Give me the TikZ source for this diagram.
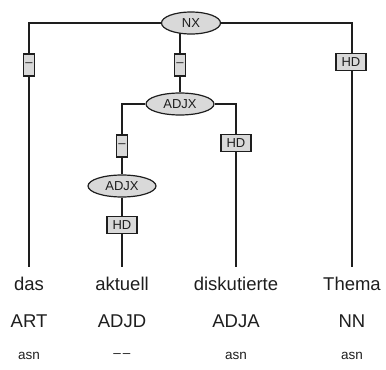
\documentclass[tikz,border=0pt]{standalone}
\usepackage{fontspec}
\setmainfont{Liberation Sans}
\usetikzlibrary{shapes.geometric,backgrounds}
\definecolor{nodefill}{RGB}{217,217,217}
\definecolor{ink}{RGB}{30,30,30}
\tikzset{
  cat/.style={ellipse,draw=ink,line width=1.2bp,fill=nodefill,inner sep=0pt,
    minimum width=#1,minimum height=22bp,font=\fontsize{13bp}{15bp}\selectfont,text=ink},
  edgebox/.style={rectangle,draw=ink,line width=1.3bp,fill=nodefill,inner sep=0pt,
    font=\fontsize{13bp}{15bp}\selectfont,text=ink},
  hdbox/.style={edgebox,minimum width=30bp,minimum height=17bp},
  dashbox/.style={edgebox,minimum width=11bp,minimum height=22bp},
  word/.style={font=\fontsize{18.5bp}{20bp}\selectfont,text=ink,inner sep=0pt},
  morph/.style={font=\fontsize{13.5bp}{15bp}\selectfont,text=ink,inner sep=0pt},
  conn/.style={draw=ink,line width=1.2bp}
}
\begin{document}
\begin{tikzpicture}[x=1bp,y=-1bp]
\useasboundingbox (0,0) rectangle (386,370);
% nodes
\node[cat=59bp] (nx) at (191,23) {NX};
\node[cat=68bp] (adjx1) at (180,104) {ADJX};
\node[cat=68bp] (adjx2) at (122,186) {ADJX};
\node[dashbox] (b1) at (29,65) {–};
\node[dashbox] (b2) at (180,65) {–};
\node[hdbox] (b4) at (351,62) {HD};
\node[dashbox] (b3) at (122,146) {–};
\node[hdbox] (b6) at (236,143) {HD};
\node[hdbox] (b5) at (122,225) {HD};
\coordinate (e1) at (29,267);
\coordinate (e2) at (122,267);
\coordinate (e3) at (236,267);
\coordinate (e4) at (352,267);
% words
\node[word] (w1) at (29,284) {das};
\node[word] (w2) at (122,284) {aktuell};
\node[word] (w3) at (236,284) {diskutierte};
\node[word] (w4) at (352,284) {Thema};
\node[word] (t1) at (29,321) {ART};
\node[word] (t2) at (122,321) {ADJD};
\node[word] (t3) at (236,321) {ADJA};
\node[word] (t4) at (352,321) {NN};
\node[morph] (m1) at (29,356) {asn};
\node[morph] (m2) at (122,356) {–\kern2bp–};
\node[morph] (m3) at (236,356) {asn};
\node[morph] (m4) at (352,356) {asn};
\begin{scope}[on background layer]
\draw[conn] (b1) |- (nx);
\draw[conn] (b1) -- (e1);
\draw[conn] (nx) -| (e4);
\draw[conn] (b2 |- nx) -- (adjx1);
\draw[conn] (b3) |- (adjx1);
\draw[conn] (b3) -- (adjx2) -- (e2);
\draw[conn] (adjx1) -| (e3);
\end{scope}
\end{tikzpicture}
\end{document}
